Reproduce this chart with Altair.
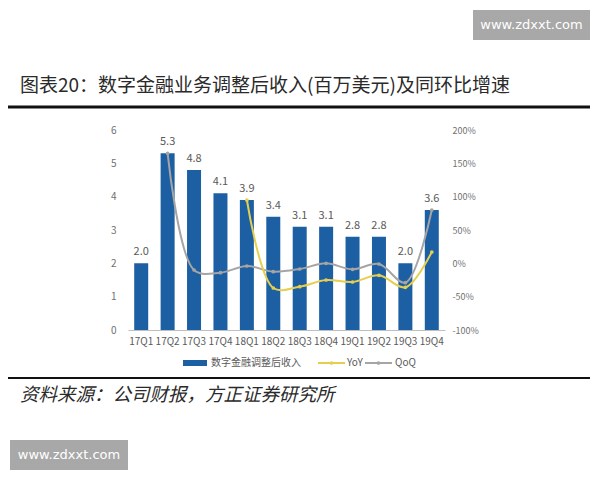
import altair as alt
import pandas as pd

quarters = ["17Q1", "17Q2", "17Q3", "17Q4", "18Q1", "18Q2", "18Q3", "18Q4",
            "19Q1", "19Q2", "19Q3", "19Q4"]
revenue = [2.0, 5.3, 4.8, 4.1, 3.9, 3.4, 3.1, 3.1, 2.8, 2.8, 2.0, 3.6]
yoy = [None, None, None, None, 0.95, -0.37, -0.35, -0.25, -0.28, -0.18, -0.36, 0.17]
qoq = [None, 1.65, -0.10, -0.14, -0.04, -0.125, -0.085, 0.0, -0.09, -0.01, -0.29, 0.80]

left_ticks = [0, 1, 2, 3, 4, 5, 6]
right_ticks = [-1.0, -0.5, 0.0, 0.5, 1.0, 1.5, 2.0]

title_text = "图表20：数字金融业务调整后收入(百万美元)及同环比增速"
source_text = "资料来源：公司财报，方正证券研究所"
legend_labels = ["数字金融调整后收入", "YoY", "QoQ"]
watermark = "www.zdxxt.com"

BLUE = "#1C5FA3"
YELLOW = "#E6CF4F"
GRAY = "#A5A5A5"
LABEL = "#595959"
FONT = "Noto Sans CJK SC"

bar_df = pd.DataFrame({"q": quarters, "rev": revenue})
rows = []
for q, a, b in zip(quarters, yoy, qoq):
    if a is not None:
        rows.append({"q": q, "metric": "YoY", "val": a})
    if b is not None:
        rows.append({"q": q, "metric": "QoQ", "val": b})
line_df = pd.DataFrame(rows)

xscale = alt.Scale(paddingInner=0.47, paddingOuter=0.235)
xenc = alt.X("q:N", sort=quarters, scale=xscale,
             axis=alt.Axis(title=None, labelAngle=0, ticks=False, domainColor="#BFBFBF",
                           labelColor=LABEL, labelFontSize=10, labelPadding=6, labelFont=FONT))

bars = alt.Chart(bar_df).mark_bar(color=BLUE).encode(
    x=xenc,
    y=alt.Y("rev:Q", scale=alt.Scale(domain=[0, 6]),
            axis=alt.Axis(values=left_ticks, title=None, grid=False, domain=False, ticks=False,
                          labelPadding=12, labelColor="#707070", labelFontSize=10, labelFont=FONT)),
)
bar_labels = alt.Chart(bar_df).mark_text(baseline="bottom", dy=-6, fontSize=11, color=LABEL, font=FONT).encode(
    x=alt.X("q:N", sort=quarters),
    y=alt.Y("rev:Q", scale=alt.Scale(domain=[0, 6]), axis=None),
    text=alt.Text("rev:Q", format=".1f"),
)

cscale = alt.Scale(domain=["YoY", "QoQ"], range=[YELLOW, GRAY])
lines = alt.Chart(line_df).mark_line(interpolate="catmull-rom", strokeWidth=2).encode(
    x=alt.X("q:N", sort=quarters),
    y=alt.Y("val:Q", scale=alt.Scale(domain=[-1, 2]),
            axis=alt.Axis(orient="right", values=right_ticks, format=".0%", title=None, grid=False,
                          domain=False, ticks=False, labelPadding=7, labelColor="#707070",
                          labelFontSize=9, labelFont=FONT,
                          labelExpr="replace(format(datum.value, '.0%'), '\u2212', '-')")),
    color=alt.Color("metric:N", scale=cscale, legend=None),
    detail="metric:N",
)
pts = alt.Chart(line_df).mark_point(filled=True, size=14, opacity=1).encode(
    x=alt.X("q:N", sort=quarters),
    y=alt.Y("val:Q", scale=alt.Scale(domain=[-1, 2]), axis=None),
    color=alt.Color("metric:N", scale=cscale, legend=None),
)

one = pd.DataFrame({"a": [0]})

def txt(s, x, y, **kw):
    return alt.Chart(one).mark_text(**kw).encode(x=alt.value(x), y=alt.value(y), text=alt.value(s))

def rule(x1, x2, y, color, w):
    return alt.Chart(one).mark_rule(color=color, strokeWidth=w).encode(
        x=alt.value(x1), x2=alt.value(x2), y=alt.value(y))

def box(x1, x2, y1, y2, color):
    return alt.Chart(one).mark_rect(color=color).encode(
        x=alt.value(x1), x2=alt.value(x2), y=alt.value(y1), y2=alt.value(y2))

decor = [
    txt(title_text, -108, -44, align="left", baseline="middle", fontSize=19, color="#2a2a2a", font=FONT),
    rule(-121, 462, -23, "#111111", 3),
    rule(-121, 462, 248, "#111111", 2),
    txt(source_text, -108, 265, align="left", baseline="middle", fontSize=18.5, color="#2a2a2a",
        font=FONT, fontStyle="italic"),
    box(345, 462, -120, -90, "#A8A8A8"),
    txt(watermark, 403.5, -105, align="center", baseline="middle", fontSize=13, color="white", font="DejaVu Sans"),
    box(-118, 0, 310, 340, "#A8A8A8"),
    txt(watermark, -59, 325, align="center", baseline="middle", fontSize=13, color="white", font="DejaVu Sans"),
    box(55, 79, 230, 236, BLUE),
    txt(legend_labels[0], 83, 233, align="left", baseline="middle", fontSize=10, color=LABEL, font=FONT),
    rule(190, 217, 233, YELLOW, 2),
    alt.Chart(one).mark_point(filled=True, size=14, color=YELLOW, opacity=1).encode(x=alt.value(203.5), y=alt.value(233)),
    txt(legend_labels[1], 219, 233, align="left", baseline="middle", fontSize=10, color=LABEL, font=FONT),
    rule(237, 264, 233, GRAY, 2),
    alt.Chart(one).mark_point(filled=True, size=14, color=GRAY, opacity=1).encode(x=alt.value(250.5), y=alt.value(233)),
    txt(legend_labels[2], 267, 233, align="left", baseline="middle", fontSize=10, color=LABEL, font=FONT),
]

chart = alt.layer(bars, bar_labels, lines, pts, *decor).resolve_scale(y="independent").properties(
    width=317, height=200,
    autosize=alt.AutoSizeParams(type="none"),
    padding={"left": 120, "top": 122, "right": 147, "bottom": 142},
    background="white",
).configure_view(stroke=None)

chart.save("out.html", embed_options={"renderer": "svg", "actions": False})
